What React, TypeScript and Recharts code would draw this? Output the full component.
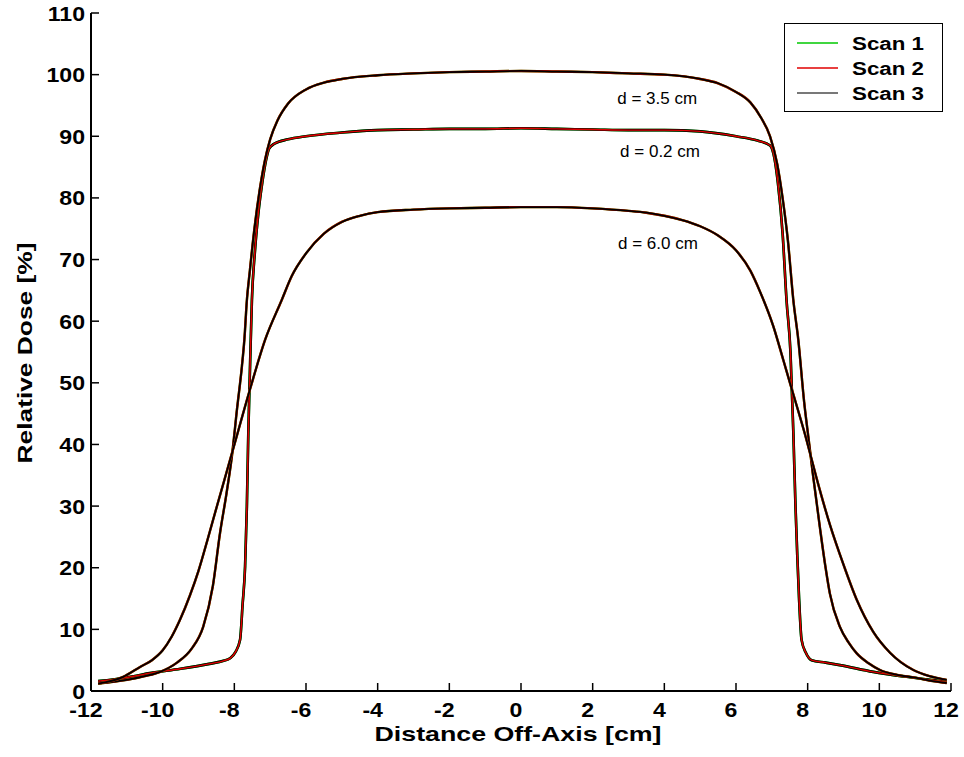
import { LineChart, Line, XAxis, YAxis, Legend, ReferenceDot, Label } from 'recharts';

// depth profiles (x in cm, relative dose in %)
const xDepth02 = [-11.8, -11.0, -10.35, -9.5, -8.7, -8.3, -8.12, -7.97, -7.84, -7.77, -7.7, -7.65, -7.61, -7.56, -7.51, -7.43, -7.33, -7.22, -7.12, -7.03, -6.88, -6.5, -6.0, -5.0, -4.0, -3.0, -2.0, -1.0, 0, 1.0, 2.0, 3.0, 4.0, 5.0, 6.0, 6.6, 6.95, 7.07, 7.17, 7.3, 7.41, 7.52, 7.6, 7.66, 7.71, 7.76, 7.83, 7.95, 8.11, 8.5, 8.9, 9.83, 10.76, 11.88];
const doseDepth02 = [1.6, 2.2, 2.9, 3.6, 4.4, 4.9, 5.3, 6.3, 8.3, 14, 20.2, 30, 41.8, 53, 63.4, 71, 77.5, 82.5, 86, 88, 88.8, 89.5, 90.0, 90.6, 91.0, 91.1, 91.2, 91.2, 91.3, 91.2, 91.1, 91.0, 91.0, 90.8, 90.0, 89.3, 88.5, 86.5, 82.4, 74.3, 63.4, 55, 42, 30, 22, 15, 8.3, 6.2, 5.0, 4.6, 4.2, 3.1, 2.3, 1.5];

const xDepth35 = [-11.8, -11.0, -10.5, -10.07, -9.6, -9.2, -8.87, -8.6, -8.4, -8.22, -8.07, -7.92, -7.79, -7.72, -7.65, -7.57, -7.45, -7.3, -7.15, -7.0, -6.8, -6.5, -6.0, -5.5, -5.0, -4.0, -3.0, -2.0, -1.0, 0, 1.0, 2.0, 3.0, 4.0, 5.0, 5.5, 6.0, 6.4, 6.7, 6.95, 7.15, 7.3, 7.45, 7.6, 7.74, 7.9, 8.03, 8.15, 8.34, 8.5, 8.62, 8.9, 9.15, 9.37, 9.7, 10.02, 10.5, 10.95, 11.4, 11.88];
const doseDepth35 = [1.2, 1.8, 2.4, 3.1, 4.6, 6.8, 10.4, 17, 25.6, 32, 38, 46, 52.6, 57, 63.4, 68, 74.5, 81, 86, 89.5, 92.5, 95.3, 97.6, 98.7, 99.3, 99.9, 100.2, 100.4, 100.5, 100.6, 100.5, 100.4, 100.2, 100.0, 99.3, 98.6, 97.2, 95.5, 93, 90, 85.5, 80, 73, 63.4, 56.9, 47, 40.7, 35, 26.6, 20, 15.8, 10.4, 7.8, 6.1, 4.5, 3.4, 2.6, 2.2, 1.7, 1.3];

const xDepth60 = [-11.8, -11.1, -10.63, -10.3, -10.0, -9.75, -9.52, -9.24, -9.0, -8.75, -8.49, -8.07, -7.56, -7.14, -6.68, -6.4, -6.0, -5.5, -5.0, -4.5, -4.0, -3.0, -2.0, -1.0, 0, 1.0, 2.0, 3.0, 3.5, 4.0, 4.5, 5.0, 5.5, 6.0, 6.4, 6.67, 7.04, 7.32, 7.51, 7.97, 8.25, 8.62, 9.0, 9.37, 9.83, 10.3, 10.95, 11.4, 11.88];
const doseDepth60 = [1.2, 2.3, 3.9, 5.0, 6.6, 8.8, 11.5, 15.5, 19.5, 24.5, 29.9, 38.5, 49, 57, 63.4, 67.3, 71, 74.2, 76.1, 77.1, 77.7, 78.1, 78.3, 78.4, 78.5, 78.5, 78.3, 77.9, 77.6, 77.1, 76.4, 75.4, 73.9, 71.5, 68.2, 64.8, 59.2, 53.7, 49.9, 40.7, 34.5, 27.0, 20.5, 14.8, 9.6, 6.2, 3.4, 2.4, 1.8];

const xTicks = [-12, -10, -8, -6, -4, -2, 0, 2, 4, 6, 8, 10, 12];
const yTicks = [0, 10, 20, 30, 40, 50, 60, 70, 80, 90, 100, 110];

const scanNames = ['Scan 1', 'Scan 2', 'Scan 3'];
const scanColors = ['#00c800', '#e00000', '#000000'];

const depthLabels = ['d = 3.5 cm', 'd = 0.2 cm', 'd = 6.0 cm'];
const depthLabelX = [3.8, 3.88, 3.82];
const depthLabelY = [96.2, 87.6, 72.7];

const toPoints = (xs: number[], ys: number[]) => xs.map((x, i) => ({ x, dose: ys[i] }));

const profiles = [
  { key: 'd02', data: toPoints(xDepth02, doseDepth02), redOnTop: true },
  { key: 'd35', data: toPoints(xDepth35, doseDepth35), redOnTop: false },
  { key: 'd60', data: toPoints(xDepth60, doseDepth60), redOnTop: false },
];

const FONT = 'Arial, "Liberation Sans", sans-serif';

const BottomTick = (p: any) => (
  <g>
    <line x1={p.x} y1={p.y} x2={p.x} y2={p.y - 8} stroke="#000" strokeWidth={1.5} />
    <text transform={`translate(${p.x - 5},${p.y + 26}) scale(1.1,1)`} textAnchor="middle" fontSize={21} fontWeight="bold" fontFamily={FONT} fill="#000">
      {p.payload.value}
    </text>
  </g>
);

const LeftTick = (p: any) => (
  <g>
    <line x1={p.x} y1={p.y} x2={p.x + 8} y2={p.y} stroke="#000" strokeWidth={1.5} />
    <text transform={`translate(${p.x - 6},${p.y + 7.5}) scale(1.1,1)`} textAnchor="end" fontSize={21} fontWeight="bold" fontFamily={FONT} fill="#000">
      {p.payload.value}
    </text>
  </g>
);

const TopTick = (p: any) => <line x1={p.x} y1={p.y} x2={p.x} y2={p.y + 8} stroke="#000" strokeWidth={1.5} />;
const RightTick = (p: any) => <line x1={p.x} y1={p.y} x2={p.x - 8} y2={p.y} stroke="#000" strokeWidth={1.5} />;

function LegendBox() {
  return (
    <svg width={160} height={90} style={{ display: 'block' }}>
      <rect x={0.5} y={0.5} width={158} height={88} fill="#fff" stroke="#000" strokeWidth={1} />
      {scanNames.map((name, i) => (
        <g key={name}>
          <line x1={13} x2={54} y1={20 + i * 25} y2={20 + i * 25} stroke={scanColors[i]} strokeWidth={1.5} opacity={i === 2 ? 0.7 : 1} />
          <text x={68} y={27 + i * 25} fontSize={18} fontWeight="bold" fontFamily={FONT} fill="#000" textLength={72} lengthAdjust="spacingAndGlyphs">
            {name}
          </text>
        </g>
      ))}
    </svg>
  );
}

export default function App() {
  const lines: any[] = [];
  profiles.forEach((pr) => {
    const order = pr.redOnTop ? [0, 2, 1] : [0, 1, 2];
    order.forEach((s) => {
      let w = s === 2 ? 1.8 : 2.4;
      if (pr.redOnTop) w = s === 1 ? 1.4 : 2.6;
      lines.push(
        <Line
          key={pr.key + s}
          data={pr.data}
          dataKey="dose"
          name={scanNames[s]}
          type="monotone"
          stroke={scanColors[s]}
          strokeWidth={w}
          dot={false}
          activeDot={false}
          isAnimationActive={false}
        />
      );
    });
  });

  // fixed so the full-page chart never triggers scrollbars
  return (
    <div style={{ position: 'fixed', left: 0, top: 0, width: 964, height: 757, background: '#fff' }}>
      <LineChart width={964} height={757} margin={{ top: 13, right: 13, bottom: 0, left: 0 }}>
        <XAxis dataKey="x" type="number" domain={[-12, 12]} ticks={xTicks} interval={0} height={66}
          tickSize={0} tickMargin={0} tickLine={false} tick={BottomTick}
          axisLine={{ stroke: '#000', strokeWidth: 2 }}>
          <Label content={(props: any) => {
            const vb = props.viewBox;
            return (
              <text x={vb.x + vb.width / 2 - 3} y={vb.y + 50} textAnchor="middle" fontSize={21} fontWeight="bold" fontFamily={FONT}
                textLength={287} lengthAdjust="spacingAndGlyphs" fill="#000">
                Distance Off-Axis [cm]
              </text>
            );
          }} />
        </XAxis>
        <XAxis xAxisId="top" orientation="top" dataKey="x" type="number" domain={[-12, 12]} ticks={xTicks} interval={0} height={0}
          tickSize={0} tickMargin={0} tickLine={false} tick={TopTick}
          axisLine={{ stroke: '#000', strokeWidth: 2 }} />
        <YAxis type="number" domain={[0, 110]} ticks={yTicks} interval={0} width={91}
          tickSize={0} tickMargin={0} tickLine={false} tick={LeftTick}
          axisLine={{ stroke: '#000', strokeWidth: 2 }}>
          <Label content={(props: any) => {
            const vb = props.viewBox;
            const cx = 24;
            const cy = vb.y + vb.height / 2 + 1;
            return (
              <text x={cx + 7.5} y={cy} transform={`rotate(-90, ${cx + 7.5}, ${cy})`} textAnchor="middle" fontSize={21} fontWeight="bold"
                fontFamily={FONT} textLength={221} lengthAdjust="spacingAndGlyphs" fill="#000">
                Relative Dose [%]
              </text>
            );
          }} />
        </YAxis>
        <YAxis yAxisId="right" orientation="right" type="number" domain={[0, 110]} ticks={yTicks} interval={0} width={0}
          tickSize={0} tickMargin={0} tickLine={false} tick={RightTick}
          axisLine={{ stroke: '#000', strokeWidth: 2 }} />
        {lines}
        {depthLabels.map((t, i) => (
          <ReferenceDot key={t} x={depthLabelX[i]} y={depthLabelY[i]} r={0} stroke="none" fill="none"
            label={{ value: t, position: 'center', fontSize: 17, fill: '#000', fontFamily: FONT }} />
        ))}
        <Legend layout="vertical" align="center" verticalAlign="middle"
          wrapperStyle={{ top: 23, left: 784, width: 160, height: 90 }}
          content={() => <LegendBox />} />
      </LineChart>
    </div>
  );
}
